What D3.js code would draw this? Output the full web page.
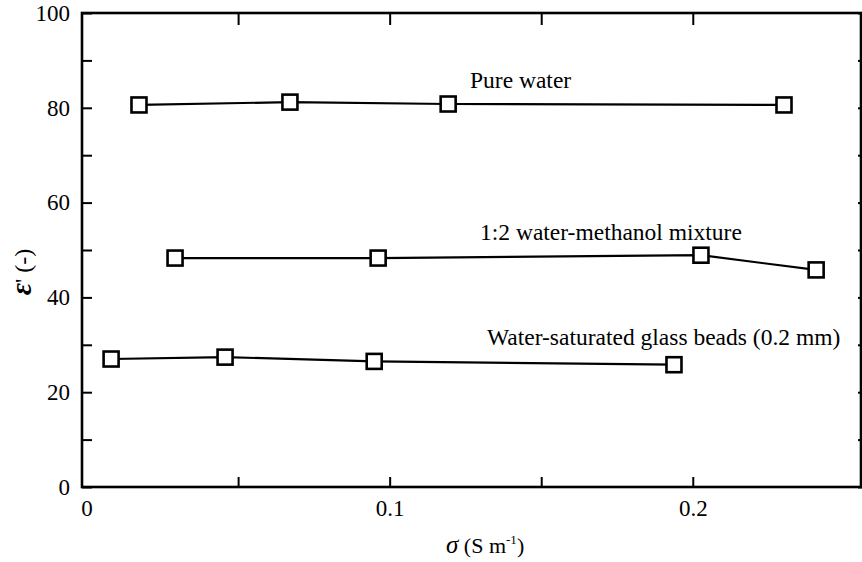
<!DOCTYPE html>
<html><head><meta charset="utf-8">
<script src="https://cdn.jsdelivr.net/npm/d3@7"></script>
<style>body{margin:0;background:#fff}svg{display:block}text{font-family:"Liberation Serif","Times New Roman",serif;fill:#000}</style>
</head><body>
<svg id="c" width="862" height="562"></svg>
<script>
const pureX = [0.0173, 0.0671, 0.1193, 0.2301];
const pureY = [80.6, 81.2, 80.8, 80.6];
const methX = [0.0292, 0.0962, 0.2027, 0.2407];
const methY = [48.3, 48.3, 48.9, 45.8];
const beadX = [0.0081, 0.0457, 0.0949, 0.1938];
const beadY = [27.0, 27.4, 26.5, 25.8];
const seriesNames = ["Pure water", "1:2 water-methanol mixture", "Water-saturated glass beads (0.2 mm)"];
const xTicks = [0.05, 0.1, 0.15, 0.2];
const xTickLabels = [0, 0.1, 0.2];
const yTicks = [0,10,20,30,40,50,60,70,80,90,100];
const yTickLabels = [0,20,40,60,80,100];

const svg = d3.select("#c");
const L=82, R=861, T=13, B=487;
const x = d3.scaleLinear().domain([-0.0015, 0.2555]).range([L, R]);
const y = d3.scaleLinear().domain([0, 100]).range([B, T]);

const axisW = 2.6;
const g = svg.append("g");
// bottom axis
const bx = d3.axisBottom(x).tickValues(xTicks).tickSizeInner(-10).tickSizeOuter(0).tickFormat("");
g.append("g").attr("transform",`translate(0,${B})`).call(bx);
const bl = d3.axisBottom(x).tickValues(xTickLabels).tickSize(0).tickPadding(13).tickFormat(d=>d===0?"0":d3.format(".1f")(d));
g.append("g").attr("class","lbl").attr("transform",`translate(0,${B})`).call(bl);
// top axis
const tx = d3.axisTop(x).tickValues(xTicks).tickSizeInner(-12).tickSizeOuter(0).tickFormat("");
g.append("g").attr("transform",`translate(0,${T})`).call(tx);
// left axis
const ly = d3.axisLeft(y).tickValues(yTicks).tickSizeInner(-10).tickSizeOuter(0).tickFormat("");
g.append("g").attr("transform",`translate(${L},0)`).call(ly);
const lyl = d3.axisLeft(y).tickValues(yTickLabels).tickSize(0).tickPadding(12).tickFormat(d3.format("d"));
g.append("g").attr("class","lbl").attr("transform",`translate(${L},0)`).call(lyl);
// right axis
const ry = d3.axisRight(y).tickValues(yTicks).tickSizeInner(-4).tickSizeOuter(0).tickFormat("");
g.append("g").attr("transform",`translate(${R+1},0)`).call(ry);

svg.selectAll(".domain").remove();
svg.selectAll(".tick line").attr("stroke","#000").attr("stroke-width",2);
svg.selectAll(".lbl text").style("font-size","23px").style("font-family",'"Liberation Serif",serif').attr("fill","#000");

// frame
svg.append("rect").attr("x",L).attr("y",T).attr("width",R-L).attr("height",B-T)
  .attr("fill","none").attr("stroke","#000").attr("stroke-width",axisW);

const series = [[pureX,pureY],[methX,methY],[beadX,beadY]];
const line = d3.line().x(d=>x(d[0])).y(d=>y(d[1]));
series.forEach(([xs,ys])=>{
  const pts = xs.map((v,i)=>[v,ys[i]]);
  svg.append("path").datum(pts).attr("d",line).attr("fill","none").attr("stroke","#000").attr("stroke-width",2.2);
  svg.selectAll(null).data(pts).enter().append("rect")
    .attr("x",d=>x(d[0])-7.5).attr("y",d=>y(d[1])-7.5).attr("width",15).attr("height",15)
    .attr("fill","#fff").attr("stroke","#000").attr("stroke-width",2.6);
});

// series labels
const labPos = [[470,88],[480,240],[487,345]];
seriesNames.forEach((n,i)=>{
  svg.append("text").attr("x",labPos[i][0]).attr("y",labPos[i][1]).style("font-size","23.5px").text(n);
});

// axis titles
const xt = svg.append("text").attr("x",446).attr("y",553).style("font-size","22px");
xt.append("tspan").style("font-style","italic").style("font-size","25px").text("σ");
xt.append("tspan").text(" (S m");
xt.append("tspan").attr("dy",-9).style("font-size","13px").text("-1");
xt.append("tspan").attr("dy",9).text(")");

const yt = svg.append("text").attr("transform","translate(31,272) rotate(-90)").attr("text-anchor","middle").style("font-size","24px");
yt.append("tspan").style("font-style","italic").style("font-weight","bold").style("font-size","30px").text("ε");
yt.append("tspan").text("' (-)");
</script>
</body></html>
